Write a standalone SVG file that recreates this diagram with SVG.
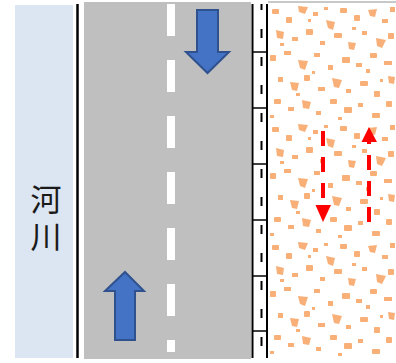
<svg xmlns="http://www.w3.org/2000/svg" width="396" height="363" viewBox="0 0 396 363">
<style>
.road{fill:#bfbfbf}
.lane{fill:#ffffff}
.barrow{fill:#4472c4;stroke:#2f528f;stroke-width:2}
.rline{stroke:#ff0000;stroke-width:4;stroke-dasharray:15 11;fill:none}
.rhead{fill:#ff0000}
.edge{stroke:#000;fill:none}
.sp rect,.sp polygon{fill:#f8b078}
.label{font-family:"Noto Sans CJK JP","Noto Sans CJK SC",sans-serif;font-size:31px;fill:#1a1a1a;writing-mode:vertical-rl;letter-spacing:6px}
</style>
<defs>
<pattern id="spk" patternUnits="userSpaceOnUse" x="268" y="3" width="128" height="118">
<g class="sp">
<rect x="4" y="6" width="7" height="5" rx="1"/><rect x="18" y="14" width="6" height="6" rx="1"/><polygon points="30,3 40,4 37,11 31,9"/><rect x="45" y="9" width="5" height="4"/><polygon points="58,17 67,19 65,27 60,25"/><rect x="72" y="5" width="7" height="5" rx="1"/><rect x="86" y="12" width="6" height="6" rx="1"/><polygon points="100,7 109,6 107,14 102,13"/><rect x="114" y="16" width="6" height="4"/><rect x="122" y="4" width="5" height="5"/>
<polygon points="8,27 16,29 15,36 9,35"/><rect x="24" y="34" width="6" height="4"/><rect x="38" y="26" width="7" height="6" rx="1"/><rect x="52" y="38" width="5" height="4"/><rect x="66" y="30" width="8" height="5" rx="1"/><polygon points="80,39 88,40 86,47 81,46"/><rect x="94" y="28" width="5" height="4"/><polygon points="108,35 118,37 114,45 109,43"/><rect x="120" y="30" width="6" height="6" rx="1"/>
<rect x="2" y="52" width="6" height="6" rx="1"/><rect x="16" y="48" width="7" height="4"/><polygon points="30,57 40,58 37,67 32,65"/><rect x="46" y="50" width="6" height="4"/><rect x="60" y="62" width="5" height="5"/><rect x="74" y="54" width="8" height="6" rx="1"/><rect x="88" y="60" width="6" height="4"/><rect x="102" y="50" width="7" height="5" rx="1"/><rect x="116" y="58" width="8" height="4"/>
<rect x="10" y="74" width="5" height="5"/><polygon points="22,79 31,80 29,88 24,87"/><rect x="36" y="72" width="6" height="6" rx="1"/><rect x="50" y="84" width="7" height="4"/><polygon points="64,75 74,77 71,85 66,84"/><rect x="78" y="86" width="5" height="4"/><rect x="92" y="78" width="8" height="5" rx="1"/><rect x="106" y="88" width="6" height="6" rx="1"/><polygon points="120,73 127,74 126,81 121,80"/>
<rect x="6" y="96" width="7" height="5" rx="1"/><rect x="20" y="104" width="6" height="4"/><polygon points="34,97 43,99 41,106 35,105"/><rect x="48" y="108" width="5" height="4"/><rect x="62" y="96" width="7" height="5" rx="1"/><rect x="76" y="104" width="8" height="6" rx="1"/><rect x="90" y="100" width="5" height="4"/><rect x="104" y="110" width="8" height="5" rx="1"/><rect x="118" y="98" width="6" height="6" rx="1"/>
<rect x="12" y="40" width="4" height="3"/><rect x="56" y="4" width="4" height="3"/><rect x="84" y="24" width="4" height="3"/><rect x="28" y="90" width="4" height="3"/><rect x="98" y="66" width="4" height="4"/><rect x="44" y="68" width="3" height="3"/><rect x="70" y="114" width="4" height="3"/><rect x="112" y="76" width="3" height="3"/><rect x="2" y="112" width="4" height="3"/><rect x="40" y="16" width="3" height="3"/>
</g>
</pattern>
</defs>

<g id="river">
<rect x="15" y="5" width="58" height="353" fill="#dce6f2"/>
<text class="label" x="46" y="221" text-anchor="middle">河川</text>
</g>
<g id="riverbank">
<line class="edge" x1="77.5" y1="4" x2="77.5" y2="358" stroke-width="2.5"/>
</g>

<g id="road">
<rect class="road" x="84" y="2" width="167" height="357"/>
<rect class="lane" x="167" y="4" width="8" height="32"/>
<rect class="lane" x="167" y="60" width="8" height="32"/>
<rect class="lane" x="167" y="116" width="8" height="32"/>
<rect class="lane" x="167" y="172" width="8" height="32"/>
<rect class="lane" x="167" y="228" width="8" height="32"/>
<rect class="lane" x="167" y="284" width="8" height="32"/>
<rect class="lane" x="167" y="340" width="8" height="12"/>
</g>

<g id="arrow-down">
<polygon class="barrow" points="197,10 218,10 218,52 229,52 207.5,73 186,52 197,52"/>
</g>
<g id="arrow-up">
<polygon class="barrow" points="125,272 144,291 135,291 135,340 115,340 115,291 105,291"/>
</g>

<g id="sidewalk">
<rect x="252" y="4" width="15" height="354" fill="#ffffff"/>
<line class="edge" x1="252.5" y1="4" x2="252.5" y2="358" stroke-width="2"/>
<line class="edge" x1="267" y1="4" x2="267" y2="358" stroke-width="2"/>
<line class="edge" x1="261.5" y1="4" x2="261.5" y2="358" stroke-width="2" stroke-dasharray="9 19" stroke-dashoffset="3"/>
<g stroke="#000" stroke-width="1.5">
<line x1="252" y1="52" x2="267" y2="52"/>
<line x1="252" y1="108" x2="267" y2="108"/>
<line x1="252" y1="164" x2="267" y2="164"/>
<line x1="252" y1="220" x2="267" y2="220"/>
<line x1="252" y1="276" x2="267" y2="276"/>
<line x1="252" y1="331" x2="267" y2="331"/>
</g>
</g>

<g id="ground">
<rect x="268" y="1" width="128" height="2" fill="#c8c8c8"/>
<rect x="268" y="3" width="128" height="355" fill="#ffffff"/>
<rect x="268" y="3" width="128" height="355" fill="url(#spk)"/>
</g>

<g id="connectors">
<line class="rline" x1="323" y1="131" x2="323" y2="206"/>
<polygon class="rhead" points="315.5,205 331,205 323,222"/>
<line class="rline" x1="369" y1="222" x2="369" y2="142"/>
<polygon class="rhead" points="361.5,142 377,142 369,127"/>
</g>
</svg>
